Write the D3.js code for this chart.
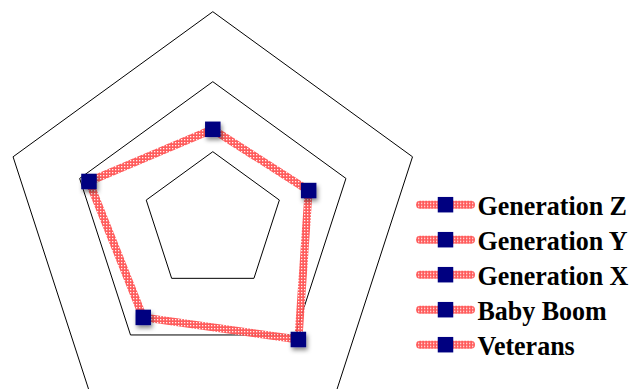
<!DOCTYPE html>
<html>
<head>
<meta charset="utf-8">
<script src="https://cdn.jsdelivr.net/npm/d3@7"></script>
<style>
  body { margin: 0; background: #fff; }
  svg { display: block; }
</style>
</head>
<body>
<div id="chart"></div>
<script>
// categories around the radar (clockwise from top) and the one series
var categories = ["Generation Z", "Generation Y", "Generation X", "Baby Boom", "Veterans"];
var values = [1.32, 1.44, 2.08, 1.69, 1.86];
var gridLevels = [1, 2, 3];
var legendLabels = ["Generation Z", "Generation Y", "Generation X", "Baby Boom", "Veterans"];

var width = 632, height = 389;
var cx = 212.8, cy = 221.7, radius = 210;

var svg = d3.select("#chart")
  .append("svg")
  .attr("width", width)
  .attr("height", height);

var defs = svg.append("defs");

// checkered red line texture
var pat = defs.append("pattern")
  .attr("id", "check")
  .attr("patternUnits", "userSpaceOnUse")
  .attr("width", 3)
  .attr("height", 3);
pat.append("rect").attr("width", 3).attr("height", 3).attr("fill", "#ff4a4a");
pat.append("rect").attr("x", 1).attr("y", 1).attr("width", 1.3).attr("height", 1.3).attr("fill", "#fff0f0");

var shadow = defs.append("filter")
  .attr("id", "shadow")
  .attr("x", "-50%").attr("y", "-50%")
  .attr("width", "200%").attr("height", "200%");
shadow.append("feDropShadow")
  .attr("dx", 1.5).attr("dy", 3)
  .attr("stdDeviation", 2)
  .attr("flood-color", "#000")
  .attr("flood-opacity", 0.45);

var rScale = d3.scaleLinear().domain([0, d3.max(gridLevels)]).range([0, radius]);
var angle = d3.scalePoint().domain(d3.range(categories.length + 1)).range([0, 2 * Math.PI]);

function pt(i, v) {
  var a = angle(i);
  return [cx + rScale(v) * Math.sin(a), cy - rScale(v) * Math.cos(a)];
}

// grid pentagons
svg.append("g")
  .selectAll("path")
  .data(gridLevels)
  .join("path")
  .attr("d", function(l) {
    return d3.line()(categories.map(function(c, i) { return pt(i, l); })) + "Z";
  })
  .attr("fill", "none")
  .attr("stroke", "#000")
  .attr("stroke-width", 1);

// series line
var pts = values.map(function(v, i) { return pt(i, v); });
svg.append("path")
  .attr("d", d3.line()(pts) + "Z")
  .attr("fill", "none")
  .attr("stroke", "url(#check)")
  .attr("stroke-width", 8)
  .attr("stroke-linejoin", "round")
  .attr("opacity", 0.9);

// markers
var ms = 15.5;
svg.append("g")
  .selectAll("rect")
  .data(pts)
  .join("rect")
  .attr("x", function(d) { return d[0] - ms / 2; })
  .attr("y", function(d) { return d[1] - ms / 2; })
  .attr("width", ms)
  .attr("height", ms)
  .attr("fill", "#000080")
  .attr("filter", "url(#shadow)");

// legend
var legend = svg.append("g")
  .selectAll("g")
  .data(legendLabels)
  .join("g")
  .attr("transform", function(d, i) { return "translate(0," + (204.7 + i * 35) + ")"; });

legend.append("line")
  .attr("x1", 420).attr("x2", 471)
  .attr("y1", 0).attr("y2", 0)
  .attr("stroke", "url(#check)")
  .attr("stroke-width", 8)
  .attr("stroke-linecap", "round")
  .attr("opacity", 0.9);

legend.append("rect")
  .attr("x", 445.5 - ms / 2).attr("y", -ms / 2)
  .attr("width", ms).attr("height", ms)
  .attr("fill", "#000080");

legend.append("text")
  .attr("transform", "translate(477.5,10.5) scale(1,1.06)")
  .attr("font-family", "'Liberation Serif', 'Times New Roman', serif")
  .attr("font-weight", "bold")
  .attr("font-size", "26px")
  .attr("fill", "#000")
  .text(function(d) { return d; });
</script>
</body>
</html>
